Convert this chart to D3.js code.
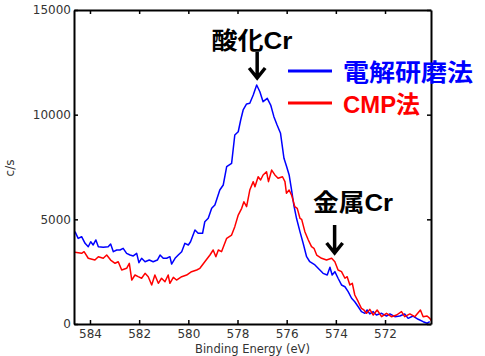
<!DOCTYPE html>
<html>
<head>
<meta charset="utf-8">
<script src="https://cdn.jsdelivr.net/npm/d3@7"></script>
<style>
  body { margin: 0; background: #fff; }
  .tick text { font-family: 'DejaVu Sans', sans-serif; font-size: 12px; fill: #333; }
</style>
</head>
<body>
<div id="chart"></div>
<script>
// Cr 2p XPS spectra, binding energy (eV) vs counts per second
const blueEV = [584.61, 584.48, 584.34, 584.20, 584.07, 583.97, 583.87, 583.76, 583.66, 583.46,
  583.26, 583.16, 583.05, 582.91, 582.78, 582.65, 582.51, 582.37, 582.24, 582.10,
  582.01, 581.90, 581.76, 581.59, 581.43, 581.26, 581.15, 581.02, 580.88, 580.75,
  580.68, 580.54, 580.41, 580.27, 580.14, 580.00, 579.91, 579.73, 579.60, 579.42,
  579.33, 579.19, 579.05, 578.92, 578.72, 578.58, 578.44, 578.24, 578.11, 577.97,
  577.87, 577.77, 577.63, 577.50, 577.36, 577.22, 577.09, 576.96, 576.79, 576.65,
  576.52, 576.39, 576.25, 576.11, 576.00, 575.90, 575.80, 575.71, 575.60, 575.46,
  575.33, 575.19, 575.06, 574.85, 574.65, 574.52, 574.35, 574.24, 574.15, 574.04,
  573.91, 573.77, 573.63, 573.50, 573.36, 573.23, 573.09, 572.96, 572.82, 572.73,
  572.62, 572.48, 572.35, 572.14, 571.94, 571.80, 571.60, 571.40, 571.20, 571.06,
  570.86, 570.65, 570.45, 570.29, 570.18]
const blueCps = [4410, 4090, 4170, 3855, 3690, 3930, 3775, 4015, 3690, 3665,
  3690, 3820, 3455, 3535, 3535, 3615, 3375, 3295, 3250, 3375,
  2930, 3140, 2975, 3055, 2975, 3055, 3295, 3140, 3140, 3215,
  2865, 3140, 3295, 3455, 3855, 3775, 3930, 4490, 4335, 4335,
  4885, 5050, 5525, 5685, 6400, 6640, 7515, 7675, 9030, 9185,
  9745, 10225, 10510, 10545, 10940, 11415, 11095, 10620, 10780, 10460,
  9905, 9505, 9110, 7915, 7515, 7120, 6400, 5685, 5050, 4410,
  3855, 3215, 2975, 2820, 2580, 2420, 2340, 2710, 2340, 2500,
  2185, 1865, 1780, 1545, 1230, 1065, 825, 590, 510, 670,
  480, 590, 430, 510, 380, 480, 350, 380, 480, 270,
  380, 225, 110, 35, 110]

const redEV = [584.61, 584.34, 584.24, 584.07, 583.80, 583.66, 583.46, 583.32, 583.16, 582.98,
  582.85, 582.71, 582.51, 582.40, 582.30, 582.17, 582.04, 581.90, 581.76, 581.63,
  581.49, 581.36, 581.22, 581.09, 580.95, 580.82, 580.75, 580.61, 580.48, 580.27,
  580.07, 579.87, 579.66, 579.53, 579.33, 579.12, 578.99, 578.88, 578.78, 578.65,
  578.44, 578.24, 578.11, 577.97, 577.83, 577.74, 577.63, 577.50, 577.36, 577.29,
  577.16, 577.06, 576.96, 576.82, 576.74, 576.61, 576.48, 576.35, 576.17, 576.07,
  576.01, 575.90, 575.80, 575.67, 575.57, 575.46, 575.39, 575.26, 575.12, 574.99,
  574.89, 574.78, 574.58, 574.38, 574.17, 574.04, 573.91, 573.77, 573.63, 573.54,
  573.43, 573.33, 573.23, 573.09, 572.96, 572.86, 572.75, 572.62, 572.48, 572.32,
  572.14, 571.94, 571.74, 571.53, 571.33, 571.20, 570.99, 570.79, 570.56, 570.45,
  570.29, 570.18, 570.05]
const redCps = [3425, 3375, 3455, 3140, 3055, 3215, 3140, 3295, 3055, 2900,
  2975, 2580, 2660, 2900, 2100, 2340, 2260, 2185, 2420, 2260,
  1865, 2340, 1945, 2185, 2020, 2340, 1945, 2230, 2100, 2260,
  2340, 2500, 2580, 2660, 2975, 3295, 3535, 3215, 3535, 3455,
  4095, 4250, 4650, 5205, 5525, 5840, 5605, 6400, 6800, 6560,
  7035, 6880, 7120, 7275, 6800, 7355, 7120, 6960, 7035, 6800,
  6245, 6400, 6160, 5605, 5525, 5050, 5000, 4410, 4015, 3695,
  3615, 3295, 3140, 3055, 3140, 2975, 2580, 2500, 2185, 2260,
  1865, 1945, 1385, 1065, 750, 670, 510, 700, 430, 670,
  350, 510, 350, 430, 590, 350, 480, 350, 670, 350,
  380, 270, 35]

const xTicks = [584, 582, 580, 578, 576, 574, 572]
const yTicks = [0, 5000, 10000, 15000]

const seriesNames = ['電解研磨法', 'CMP法']
const seriesColors = ['#0000ff', '#ff0000']

const width = 485
const height = 356
const margin = { top: 10, left: 74, right: 54, bottom: 32 }

const svg = d3
  .select('#chart')
  .append('svg')
  .attr('width', width)
  .attr('height', height)

const x = d3
  .scaleLinear()
  .domain([584.65, 570.13])
  .range([margin.left, width - margin.right])

const y = d3
  .scaleLinear()
  .domain([0, 15000])
  .range([height - margin.bottom, margin.top])

// clip for the spectra
svg
  .append('clipPath')
  .attr('id', 'plot-clip')
  .append('rect')
  .attr('x', margin.left)
  .attr('y', margin.top)
  .attr('width', width - margin.left - margin.right)
  .attr('height', height - margin.top - margin.bottom)

const line = d3
  .line()
  .x(d => x(d[0]))
  .y(d => y(d[1]))

const series = [
  d3.zip(blueEV, blueCps),
  d3.zip(redEV, redCps)
]

svg
  .selectAll('.spectrum')
  .data(series)
  .enter()
  .append('path')
  .attr('class', 'spectrum')
  .attr('clip-path', 'url(#plot-clip)')
  .attr('d', line)
  .attr('fill', 'none')
  .attr('stroke', (d, i) => seriesColors[i])
  .attr('stroke-width', 1.5)
  .attr('stroke-linejoin', 'round')

// axes with inward ticks on all four sides
const xAxisBottom = svg
  .append('g')
  .attr('transform', `translate(0,${height - margin.bottom})`)
  .call(d3.axisBottom(x).tickValues(xTicks).tickSizeInner(-4).tickSizeOuter(0).tickPadding(5))

svg
  .append('g')
  .attr('transform', `translate(0,${margin.top})`)
  .call(d3.axisTop(x).tickValues(xTicks).tickSizeInner(-4).tickSizeOuter(0).tickFormat(''))

svg
  .append('g')
  .attr('transform', `translate(${margin.left},0)`)
  .call(d3.axisLeft(y).tickValues(yTicks).tickSizeInner(-4).tickSizeOuter(0).tickPadding(3).tickFormat(d3.format('d')))

svg
  .append('g')
  .attr('transform', `translate(${width - margin.right},0)`)
  .call(d3.axisRight(y).tickValues(yTicks).tickSizeInner(-4).tickSizeOuter(0).tickFormat(''))

svg.selectAll('.domain').attr('stroke', '#000').attr('stroke-width', 2)
svg.selectAll('.tick line').attr('stroke', '#000').attr('stroke-width', 1.5)
xAxisBottom.selectAll('.tick text').attr('dy', '0.71em')

// axis titles
svg
  .append('text')
  .attr('x', (margin.left + width - margin.right) / 2)
  .attr('y', 353)
  .attr('text-anchor', 'middle')
  .attr('font-family', 'DejaVu Sans, sans-serif')
  .attr('font-size', 11.5)
  .attr('fill', '#333')
  .text('Binding Energy (eV)')

svg
  .append('text')
  .attr('transform', 'translate(14,168) rotate(-90)')
  .attr('text-anchor', 'middle')
  .attr('font-family', 'DejaVu Sans, sans-serif')
  .attr('font-size', 12)
  .attr('fill', '#333')
  .text('c/s')

// legend
const legend = svg
  .selectAll('.legend')
  .data(seriesNames)
  .enter()
  .append('g')
  .attr('class', 'legend')
  .attr('transform', (d, i) => `translate(288,${71 + i * 32})`)

legend
  .append('line')
  .attr('x1', 0)
  .attr('x2', 44)
  .attr('stroke', (d, i) => seriesColors[i])
  .attr('stroke-width', 3)

legend
  .append('text')
  .attr('x', 55)
  .attr('y', 10)
  .attr('font-family', 'Liberation Sans, Noto Sans CJK JP, sans-serif')
  .attr('font-weight', 'bold')
  .attr('font-size', 24)
  .attr('fill', (d, i) => seriesColors[i])
  .attr('textLength', (d, i) => (i === 0 ? 130 : 77))
  .attr('lengthAdjust', 'spacingAndGlyphs')
  .text(d => d)

// peak annotations
const notes = [
  { label: '酸化Cr', ev: 577.2, textX: 252, textY: 49, width: 81, arrowTop: 52, arrowTip: 78 },
  { label: '金属Cr', ev: 574.05, textX: 353, textY: 211, width: 80, arrowTop: 225, arrowTip: 253 }
]

notes.forEach(n => {
  const cx = x(n.ev)
  svg
    .append('text')
    .attr('x', n.textX)
    .attr('y', n.textY)
    .attr('text-anchor', 'middle')
    .attr('font-family', 'Liberation Sans, Noto Sans CJK JP, sans-serif')
    .attr('font-weight', 'bold')
    .attr('font-size', 24)
    .attr('fill', '#000')
    .attr('textLength', n.width)
    .attr('lengthAdjust', 'spacingAndGlyphs')
    .text(n.label)

  svg
    .append('path')
    .attr('d', `M${cx},${n.arrowTop}V${n.arrowTip - 1}M${cx - 8},${n.arrowTip - 10}L${cx},${n.arrowTip}L${cx + 8},${n.arrowTip - 10}`)
    .attr('fill', 'none')
    .attr('stroke', '#000')
    .attr('stroke-width', 3.5)
})
</script>
</body>
</html>
